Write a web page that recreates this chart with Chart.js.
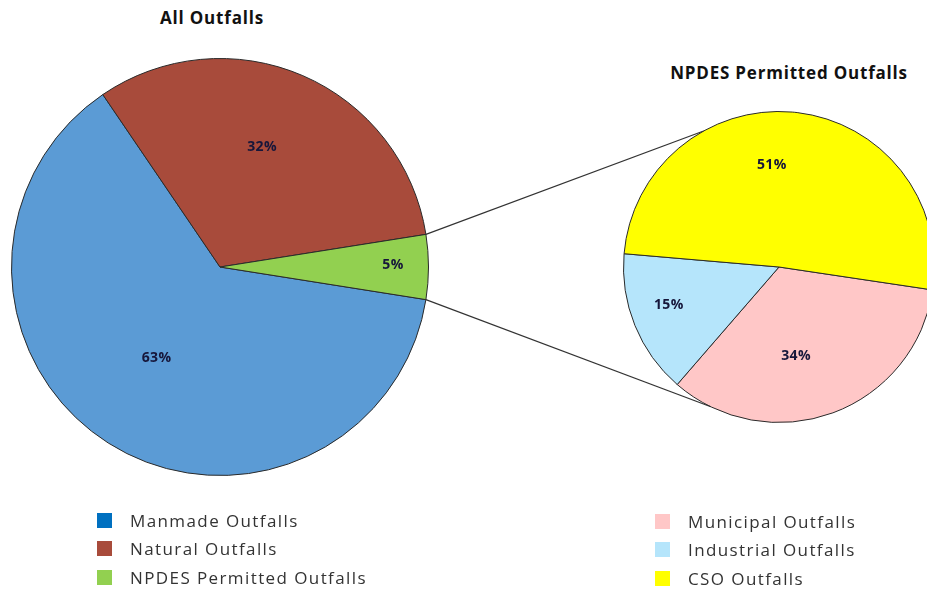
<!DOCTYPE html>
<html>
<head>
<meta charset="utf-8">
<script src="https://cdn.jsdelivr.net/npm/chart.js@4/dist/chart.umd.min.js"></script>
<style>
  html, body { margin: 0; padding: 0; background: #fff; overflow: hidden; }
  body { width: 927px; height: 592px; position: relative; font-family: 'Open Sans', sans-serif; }
  canvas { position: absolute; }
  #pieAll { left: 11px; top: 58px; }
  #pieNpdes { left: 623px; top: 111px; }
  #links { left: 0; top: 0; pointer-events: none; }
  .title { position: absolute; font-weight: bold; font-size: 17px; letter-spacing: 0.8px; color: #111; white-space: nowrap; transform: translateX(-50%); }
  .legend { position: absolute; font-size: 17px; letter-spacing: 1.4px; color: #333; }
  .legend div { height: 28.5px; display: flex; align-items: center; white-space: nowrap; }
  .legend span.box { width: 15px; height: 15px; display: inline-block; margin-right: 18px; }
</style>
</head>
<body>
<div class="title" style="left:212px; top:6px;">All Outfalls</div>
<div class="title" style="left:789px; top:61px;">NPDES Permitted Outfalls</div>
<canvas id="pieAll" width="418" height="418"></canvas>
<canvas id="pieNpdes" width="312" height="312"></canvas>
<canvas id="links" width="927" height="592"></canvas>
<div class="legend" id="legendAll" style="left:97px; top:506px;"></div>
<div class="legend" id="legendNpdes" style="left:655px; top:507px;"></div>

<script>
// All outfalls
const allLabels = ['Manmade Outfalls', 'Natural Outfalls', 'NPDES Permitted Outfalls'];
const allValues = [63, 32, 5];
const allColors = ['#5B9BD5', '#A84B3B', '#92D050'];
const allLegendColors = ['#0070C0', '#A84B3B', '#92D050'];

// NPDES permitted breakdown
const npdesLabels = ['Municipal Outfalls', 'Industrial Outfalls', 'CSO Outfalls'];
const npdesValues = [34, 15, 51];
const npdesColors = ['#FFC7C7', '#B5E5FB', '#FFFF00'];

// percent labels drawn inside the slices
const sliceLabels = {
  id: 'sliceLabels',
  afterDatasetsDraw(chart, args, opts) {
    const ctx = chart.ctx;
    const arcs = chart.getDatasetMeta(0).data;
    ctx.save();
    ctx.font = "bold 14px 'Open Sans', sans-serif";
    ctx.letterSpacing = '0.4px';
    ctx.fillStyle = '#16163a';
    ctx.textAlign = 'center';
    ctx.textBaseline = 'middle';
    arcs.forEach((arc, i) => {
      const p = opts.place[i];
      const a = (arc.startAngle + arc.endAngle) / 2 + p[1] * Math.PI / 180;
      const r = arc.outerRadius * p[0];
      ctx.fillText(chart.data.datasets[0].data[i] + '%', arc.x + r * Math.cos(a), arc.y + r * Math.sin(a));
    });
    ctx.restore();
  }
};

function pieConfig(labels, values, colors, rotation, place) {
  return {
    type: 'pie',
    data: {
      labels,
      datasets: [{
        data: values,
        backgroundColor: colors,
        borderColor: '#2a2a2a',
        borderWidth: 1,
      }]
    },
    options: {
      responsive: false,
      animation: false,
      rotation,
      layout: { padding: 0 },
      plugins: {
        legend: { display: false },
        tooltip: { enabled: false },
        sliceLabels: { place }
      }
    },
    plugins: [sliceLabels]
  };
}

const chartAll = new Chart(document.getElementById('pieAll'),
  pieConfig(allLabels, allValues, allColors, 99, [[0.53, 2.6], [0.61, -4.1], [0.83, -0.7]]));
const chartNpdes = new Chart(document.getElementById('pieNpdes'),
  pieConfig(npdesLabels, npdesValues, npdesColors, 98.5, [[0.585, 9.5], [0.75, 2.9], [0.66, -10.7]]));

// connector lines from the NPDES slice to the breakdown pie
function drawLinks() {
  const ctx = document.getElementById('links').getContext('2d');
  const offA = document.getElementById('pieAll').getBoundingClientRect();
  const offB = document.getElementById('pieNpdes').getBoundingClientRect();
  const src = chartAll.getDatasetMeta(0).data[2];
  const dst = chartNpdes.getDatasetMeta(0).data[0];
  const pt = (arc, off, ang) => [off.left + arc.x + arc.outerRadius * Math.cos(ang),
                                 off.top + arc.y + arc.outerRadius * Math.sin(ang)];
  const rad = d => d * Math.PI / 180;
  const pairs = [
    [pt(src, offA, src.startAngle), pt(dst, offB, rad(-119))],
    [pt(src, offA, src.endAngle), pt(dst, offB, rad(116))]
  ];
  ctx.strokeStyle = '#333';
  ctx.lineWidth = 1.2;
  pairs.forEach(([a, b]) => {
    ctx.beginPath();
    ctx.moveTo(a[0], a[1]);
    ctx.lineTo(b[0], b[1]);
    ctx.stroke();
  });
}
drawLinks();

function buildLegend(id, labels, colors) {
  const el = document.getElementById(id);
  labels.forEach((l, i) => {
    const row = document.createElement('div');
    row.innerHTML = `<span class="box" style="background:${colors[i]}"></span>${l}`;
    el.appendChild(row);
  });
}
buildLegend('legendAll', allLabels, allLegendColors);
buildLegend('legendNpdes', npdesLabels, npdesColors);
</script>
</body>
</html>
